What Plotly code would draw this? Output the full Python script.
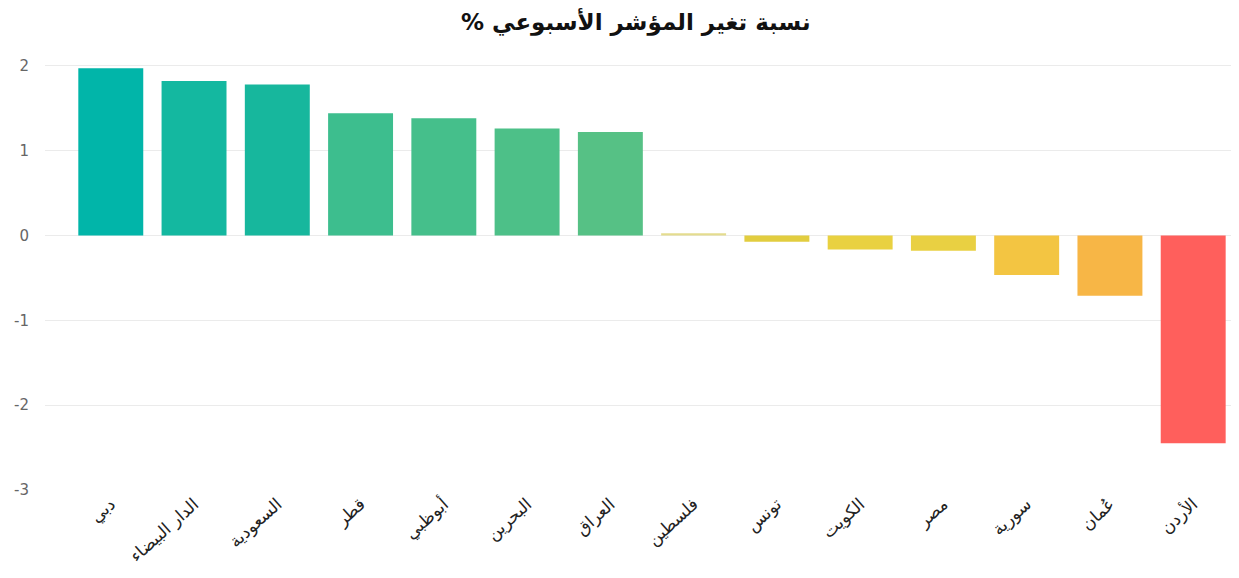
import plotly.graph_objects as go

categories = ["دبي", "الدار البيضاء", "السعودية", "قطر", "أبوظبي", "البحرين", "العراق",
              "فلسطين", "تونس", "الكويت", "مصر", "سورية", "عُمان", "الأردن"]
values = [1.97, 1.82, 1.78, 1.44, 1.38, 1.26, 1.22, 0.025, -0.075, -0.165, -0.18, -0.465, -0.71, -2.45]
colors = ["#01B5A9", "#14B8A0", "#17B79D", "#3DBE8E", "#45BF8B", "#4DC088", "#56C185",
          "#E4DC8F", "#E2CD3F", "#E9D141", "#E9D042", "#F3C542", "#F7B646", "#FF5F5C"]
title = "نسبة تغير المؤشر الأسبوعي %\u200f"
yticks = [-3, -2, -1, 0, 1, 2]

fig = go.Figure(go.Bar(
    x=categories, y=values,
    marker=dict(color=colors, line=dict(width=0)),
))

fig.update_layout(
    width=1231, height=570,
    margin=dict(l=37, r=5, t=45, b=88),
    paper_bgcolor="white", plot_bgcolor="white",
    bargap=0.22,
    showlegend=False,
    title=dict(text=title, x=0.51, xanchor="center", y=0.975, yanchor="middle",
               font=dict(family="DejaVu Sans", size=23, color="#111111", weight="bold")),
    font=dict(family="DejaVu Sans"),
)
fig.update_xaxes(range=[-0.79, 13.49], tickangle=-42, showgrid=False, showline=False,
                 ticks="", tickfont=dict(size=17, color="#222222"))
fig.update_yaxes(range=[-3.0, 2.15], tickvals=yticks, ticktext=[str(v) for v in yticks],
                 showgrid=True, gridcolor="#EBEBEB", gridwidth=1,
                 zeroline=True, zerolinecolor="#EBEBEB", zerolinewidth=1,
                 showline=False, ticks="", ticklabelstandoff=15,
                 tickfont=dict(size=15, color="#666666"))

fig.write_html("out.html")
